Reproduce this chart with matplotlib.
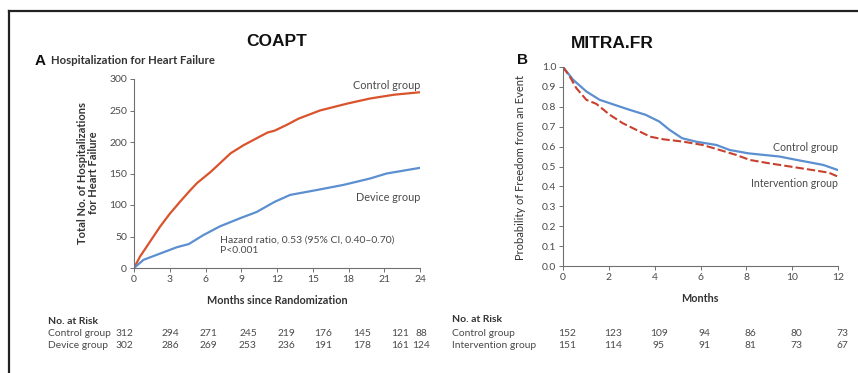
import numpy as np
import matplotlib
matplotlib.use("Agg")
import matplotlib.pyplot as plt
from matplotlib.lines import Line2D

# COAPT - cumulative hospitalizations for heart failure
coapt_months_ctrl = [0, 0.5, 1.35, 2.2, 3.0, 3.9, 4.7, 5.3, 6.4, 7.2, 8.1, 9.2, 10.3, 11.2,
                     11.8, 12.8, 13.8, 15.6, 17.9, 19.8, 21.8, 24.0]
coapt_ctrl = [0, 18, 42, 66, 86, 106, 123, 135, 152, 166, 182, 195, 206, 215,
              218, 227, 237, 250, 261, 269, 275, 279]
coapt_months_dev = [0, 0.8, 2.2, 3.6, 4.6, 5.8, 7.2, 8.9, 10.3, 11.8, 13.1, 15.4, 17.6,
                    19.8, 21.2, 24.0]
coapt_dev = [0, 13, 23, 33, 38, 52, 66, 79, 89, 105, 116, 124, 132, 142, 150, 159]

coapt_risk_ctrl = [312, 294, 271, 245, 219, 176, 145, 121, 88]
coapt_risk_dev = [302, 286, 269, 253, 236, 191, 178, 161, 124]

# MITRA.FR - Kaplan-Meier freedom from event
mitra_months_ctrl = [0, 0.44, 1.02, 1.6, 2.04, 2.9, 3.6, 4.2, 4.65, 5.2, 5.8, 6.7, 7.27,
                     8.1, 9.45, 10.2, 11.35, 12.0]
mitra_ctrl = [1.0, 0.936, 0.877, 0.835, 0.818, 0.785, 0.76, 0.726, 0.684, 0.642, 0.625,
              0.608, 0.583, 0.566, 0.55, 0.533, 0.508, 0.482]
mitra_months_int = [0, 0.29, 0.58, 1.02, 1.45, 2.04, 2.6, 3.2, 3.8, 4.36, 5.24, 6.1, 6.84,
                    7.56, 8.15, 9.0, 9.9, 10.9, 11.6, 12.0]
mitra_int = [1.0, 0.953, 0.894, 0.835, 0.815, 0.76, 0.718, 0.684, 0.65, 0.637, 0.625,
             0.608, 0.583, 0.558, 0.533, 0.516, 0.5, 0.482, 0.469, 0.449]

mitra_risk_ctrl = [152, 123, 109, 94, 86, 80, 73]
mitra_risk_int = [151, 114, 95, 91, 81, 73, 67]

RED = '#d9532c'
RED2 = '#c8402e'
BLUE = '#5b8fd0'
GRAY = '#4a4a4a'
W, H = 858, 373

plt.rcParams['font.family'] = ['Lato', 'DejaVu Sans']

fig = plt.figure(figsize=(W / 100, H / 100), dpi=100)
fig.patch.set_facecolor('white')


def fx(px):
    return px / W


def fy(py):
    return 1 - py / H


def style_axes(ax):
    for s in ['top', 'right']:
        ax.spines[s].set_visible(False)
    for s in ['left', 'bottom']:
        ax.spines[s].set_color('#707070')
        ax.spines[s].set_linewidth(0.8)
    ax.tick_params(direction='out', length=3, width=0.7, colors='#707070',
                   labelcolor=GRAY, labelsize=7.5, pad=2)


# frame lines
fig.add_artist(Line2D([fx(9), 1], [fy(11), fy(11)], color='#222222', lw=1.6))
fig.add_artist(Line2D([fx(9), fx(9)], [fy(11), 0], color='#222222', lw=1.6))

# ---- panel A ----
ax1 = fig.add_axes([fx(134), fy(268), fx(420) - fx(134), fy(79) - fy(268)])
ax1.plot(coapt_months_ctrl, coapt_ctrl, color=RED, lw=1.6)
ax1.plot(coapt_months_dev, coapt_dev, color=BLUE, lw=1.6)
ax1.set_xlim(0, 24)
ax1.set_ylim(0, 300)
ax1.set_xticks(np.arange(0, 25, 3))
ax1.set_yticks(np.arange(0, 301, 50))
style_axes(ax1)
ax1.text(24, 289, 'Control group', ha='right', va='center', fontsize=7.8, color=GRAY)
ax1.text(24, 112, 'Device group', ha='right', va='center', fontsize=7.8, color=GRAY)
ax1.text(7.2, 36, 'Hazard ratio, 0.53 (95% CI, 0.40\u20130.70)\nP<0.001', ha='left',
         va='center', fontsize=7.5, color=GRAY, linespacing=1.2)

fig.text(fx(277), fy(42), 'COAPT', ha='center', va='center', fontsize=12.5,
         fontweight='bold', family='Liberation Sans', color='#111111')
fig.text(fx(35), fy(61), 'A', ha='left', va='center', fontsize=11, fontweight='bold',
         family='Liberation Sans', color='#111111')
fig.text(fx(51), fy(61), 'Hospitalization for Heart Failure', ha='left', va='center',
         fontsize=8.2, fontweight='bold', color='#333333')
fig.text(fx(88), fy(173), 'Total No. of Hospitalizations\nfor Heart Failure', ha='center',
         va='center', rotation=90, fontsize=8, fontweight='bold', color='#333333',
         linespacing=1.05)
fig.text(fx(277), fy(301), 'Months since Randomization', ha='center', va='center',
         fontsize=7.8, fontweight='bold', color='#333333')

# risk table A
risk_x_a = [124, 170, 208, 248, 286, 323, 362, 400, 421]
fig.text(fx(48), fy(322), 'No. at Risk', ha='left', va='center', fontsize=7.5,
         fontweight='bold', color='#333333')
fig.text(fx(48), fy(334), 'Control group', ha='left', va='center', fontsize=7.4, color=GRAY)
fig.text(fx(48), fy(346), 'Device group', ha='left', va='center', fontsize=7.4, color=GRAY)
for x, c, d in zip(risk_x_a, coapt_risk_ctrl, coapt_risk_dev):
    fig.text(fx(x), fy(334), str(c), ha='center', va='center', fontsize=7.4, color=GRAY)
    fig.text(fx(x), fy(346), str(d), ha='center', va='center', fontsize=7.4, color=GRAY)

# ---- panel B ----
ax2 = fig.add_axes([fx(563), fy(266), fx(838) - fx(563), fy(67) - fy(266)])
ax2.plot(mitra_months_ctrl, mitra_ctrl, color=BLUE, lw=1.6)
ax2.plot(mitra_months_int, mitra_int, color=RED2, lw=1.5, ls=(0, (4, 1.5)))
ax2.set_xlim(0, 12)
ax2.set_ylim(0, 1.0)
ax2.set_xticks(np.arange(0, 13, 2))
ax2.set_yticks(np.arange(0, 1.01, 0.1))
ax2.set_yticklabels(['%.1f' % v for v in np.arange(0, 1.01, 0.1)])
style_axes(ax2)
ax2.text(12, 0.595, 'Control group', ha='right', va='center', fontsize=7.6, color=GRAY)
ax2.text(12, 0.415, 'Intervention group', ha='right', va='center', fontsize=7.6, color=GRAY)

fig.text(fx(612), fy(43), 'MITRA.FR', ha='center', va='center', fontsize=12.5,
         fontweight='bold', family='Liberation Sans', color='#111111')
fig.text(fx(522), fy(60), 'B', ha='center', va='center', fontsize=11, fontweight='bold',
         family='Liberation Sans', color='#111111')
fig.text(fx(521), fy(167), 'Probability of Freedom from an Event', ha='center',
         va='center', rotation=90, fontsize=8, color='#333333')
fig.text(fx(700), fy(298), 'Months', ha='center', va='center', fontsize=7.8,
         fontweight='bold', color='#333333')

# risk table B (aligned to month ticks)
fig.text(fx(452), fy(319), 'No. at Risk', ha='left', va='center', fontsize=7.5,
         fontweight='bold', color='#333333')
fig.text(fx(452), fy(333), 'Control group', ha='left', va='center', fontsize=7.4, color=GRAY)
fig.text(fx(452), fy(345), 'Intervention group', ha='left', va='center', fontsize=7.4,
         color=GRAY)
for m, c, d in zip(np.arange(0, 13, 2), mitra_risk_ctrl, mitra_risk_int):
    xm = fig.transFigure.inverted().transform(ax2.transData.transform((m, 0)))[0]
    fig.text(xm + fx(4), fy(333), str(c), ha='center', va='center', fontsize=7.4, color=GRAY)
    fig.text(xm + fx(4), fy(345), str(d), ha='center', va='center', fontsize=7.4, color=GRAY)

fig.savefig('out.png', dpi=100, facecolor='white')
